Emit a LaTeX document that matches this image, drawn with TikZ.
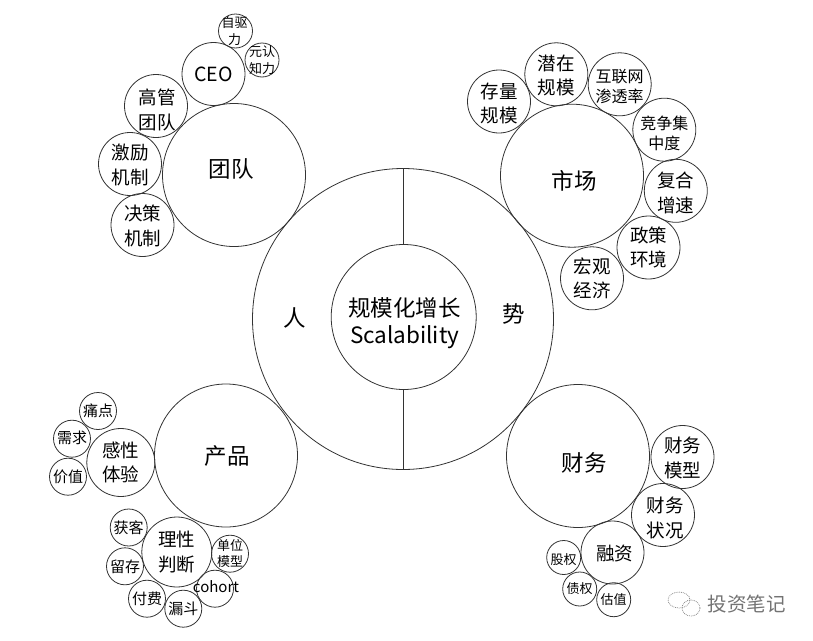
\documentclass[tikz,border=0pt]{standalone}
\usepackage{fontspec}
\setmainfont{Noto Sans CJK SC}
\usetikzlibrary{positioning}
\tikzset{
  bubble/.style={circle,draw=black!80,line width=0.8pt,inner sep=0pt,minimum size=#1},
  big/.style={font=\fontsize{22.5}{27}\selectfont,align=center,text=black},
  mid/.style={font=\fontsize{18.5}{24.5}\selectfont,align=center,text=black},
  low/.style={font=\fontsize{15}{20}\selectfont,align=center,text=black},
  tiny/.style={font=\fontsize{13}{16.5}\selectfont,align=center,text=black}
}
\begin{document}
\begin{tikzpicture}[x=1pt,y=-1pt]
\useasboundingbox (0,0) rectangle (813,640);
% centre
\node[bubble=301,label={[big,xshift=-108pt,yshift=1pt]center:人},label={[big,xshift=111pt,yshift=5pt]center:势}] (whole) at (403,319) {};
\node[bubble=145,label={[big,xshift=1pt,yshift=-6pt]center:规模化增长\\Scalability}] (core) at (403.7,317) {};
\draw[black!80,line width=0.8pt] (whole.north) -- (whole.north |- core.north);
\draw[black!80,line width=0.8pt] (whole.south) -- (whole.south |- core.south);
% team
\node[bubble=143,label={[big,xshift=-3pt,yshift=6pt]center:团队}] (team) at (234,175) {};
\node[bubble=63,label={[low,font=\fontsize{19.5}{22}\selectfont]center:CEO}] (ceo) at (213.5,74) {};
\node[bubble=34,label={[tiny,xshift=-1pt]center:自驱\\力}] (drive) at (235.5,31) {};
\node[bubble=34,label={[tiny]center:元认\\知力}] (cognition) at (262,60) {};
\node[bubble=63,label={[mid,xshift=1pt,yshift=-4pt]center:高管\\团队}] (exec) at (156,106) {};
\node[bubble=63,label={[mid,yshift=-1pt]center:激励\\机制}] (reward) at (130,164) {};
\node[bubble=63,label={[mid,yshift=-1pt]center:决策\\机制}] (decide) at (142.5,225) {};
% market
\node[bubble=143,label={[big,xshift=2pt,yshift=-5pt]center:市场}] (market) at (572,175.7) {};
\node[bubble=63,label={[mid,yshift=-2pt]center:存量\\规模}] (stock) at (499,101.5) {};
\node[bubble=63,label={[mid,yshift=-1pt]center:潜在\\规模}] (latent) at (556.3,74.3) {};
\node[bubble=63,label={[low,font=\fontsize{16}{20}\selectfont,yshift=-2pt]center:互联网\\渗透率}] (web) at (619.7,84.3) {};
\node[bubble=63,label={[low,font=\fontsize{16}{20}\selectfont,yshift=-4pt]center:竞争集\\中度}] (rivals) at (664.3,129.7) {};
\node[bubble=63,label={[mid,yshift=-2pt]center:复合\\增速}] (cagr) at (675.8,190.8) {};
\node[bubble=63,label={[mid]center:政策\\环境}] (policy) at (648.5,247.5) {};
\node[bubble=63,label={[mid]center:宏观\\经济}] (macro) at (592,278.3) {};
% product
\node[bubble=143,label={[big,xshift=1pt,yshift=-1pt]center:产品}] (product) at (226,455.5) {};
\node[bubble=68,label={[mid]center:感性\\体验}] (feel) at (120.8,462.5) {};
\node[bubble=37,label={[low]center:痛点}] (pain) at (98,411) {};
\node[bubble=37,label={[low,yshift=1pt]center:需求}] (need) at (72,438.7) {};
\node[bubble=37,label={[low]center:价值}] (worth) at (68,476.7) {};
\node[bubble=70,label={[mid]center:理性\\判断}] (reason) at (176.8,552) {};
\node[bubble=37,label={[low]center:获客}] (acquire) at (128.7,527.5) {};
\node[bubble=37,label={[low]center:留存}] (retain) at (125,566.3) {};
\node[bubble=37,label={[low]center:付费}] (pay) at (147,598.7) {};
\node[bubble=37,label={[low]center:漏斗}] (funnel) at (183.3,608.7) {};
\node[bubble=37,label={[low,xshift=1pt,yshift=2pt]center:cohort}] (cohort) at (215,588.7) {};
\node[bubble=37,label={[tiny]center:单位\\模型}] (unit) at (230,553.7) {};
% finance
\node[bubble=143,label={[big,xshift=6pt,yshift=-7pt]center:财务}] (finance) at (578,456) {};
\node[bubble=63,label={[mid,yshift=-1pt]center:财务\\模型}] (fmodel) at (682.5,457) {};
\node[bubble=63,label={[mid,xshift=2pt,yshift=-3pt]center:财务\\状况}] (fstate) at (663,515) {};
\node[bubble=63,label={[mid,xshift=2pt,yshift=-1pt]center:融资}] (funding) at (612.5,552.5) {};
\node[bubble=34,label={[tiny,yshift=-2pt]center:股权}] (equity) at (563.7,557.5) {};
\node[bubble=34,label={[tiny]center:债权}] (debt) at (579.7,589) {};
\node[bubble=34,label={[tiny]center:估值}] (value) at (613.7,599.7) {};
% watermark
\draw[black!45,densely dotted,line width=0.8pt] (679,600) ellipse (11 and 8);
\draw[black!45,densely dotted,line width=0.8pt] (691,608) ellipse (9 and 8);
\node[font=\fontsize{19.5}{22}\selectfont,text=black!55] (mark) at (746.5,604) {投资笔记};
\end{tikzpicture}
\end{document}
